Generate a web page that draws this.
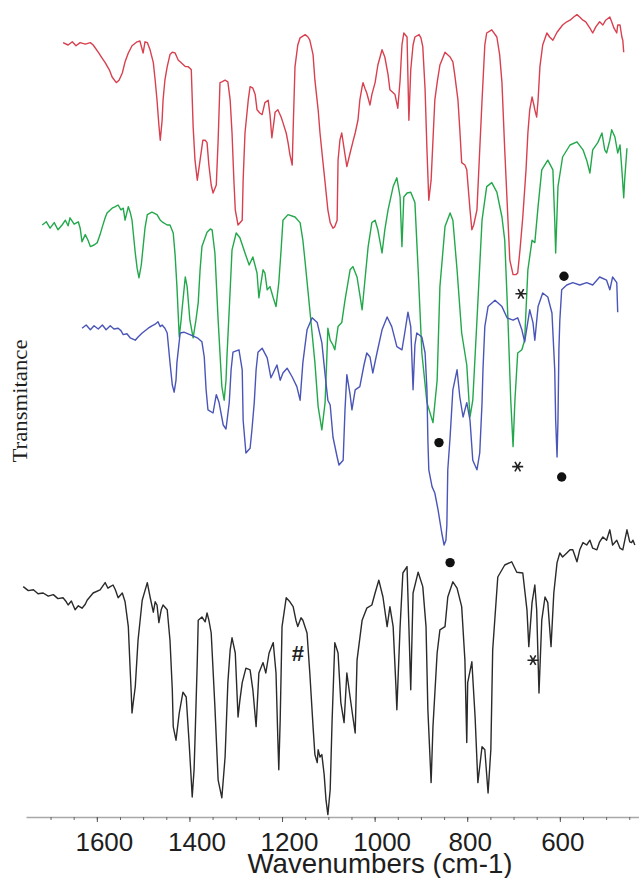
<!DOCTYPE html>
<html>
<head>
<meta charset="utf-8">
<script src="https://cdn.jsdelivr.net/npm/d3@7"></script>
<style>
    html, body { margin: 0; padding: 0; background: #fff; }
    svg { display: block; }
</style>
</head>
<body>
<div id="chart"></div>
<script>
// wavenumbers (cm-1) and offset transmittance (a.u.)
const redWn = [1673,1662,1653,1645,1636,1625,1614,1608,1597,1589,1582,1573,1567,1558,1552,1545,1539,1532,1524,1513,
    1507,1500,1496,1491,1485,1478,1474,1470,1466,1463,1459,1457,1453,1448,1442,1437,1431,1424,1420,1409,
    1403,1399,1396,1392,1388,1383,1377,1371,1366,1362,1358,1353,1349,1342,1338,1334,1330,1323,1317,1312,
    1308,1304,1301,1295,1286,1284,1280,1273,1269,1263,1258,1254,1248,1243,1237,1230,1226,1222,1217,1215,
    1209,1202,1198,1191,1187,1183,1178,1176,1172,1166,1161,1150,1144,1140,1133,1129,1122,1118,1112,1107,
    1101,1096,1090,1086,1081,1079,1075,1071,1064,1060,1053,1047,1042,1036,1032,1027,1025,1021,1017,1010,
    1006,999,993,984,978,971,967,956,950,945,941,937,930,926,922,917,913,904,900,896,
    891,887,883,878,874,870,865,859,848,837,831,827,820,816,812,805,801,794,790,786,
    779,773,768,762,758,747,736,730,725,719,712,708,701,695,691,686,680,673,669,665,
    660,656,654,650,647,643,637,628,622,615,606,594,585,578,570,563,557,550,544,535,
    529,522,514,507,501,492,488,483,477,475,470,466,464,462]
const redT = [96.8,96.5,96.9,96.4,96.8,96.6,96.8,96.5,95.6,94.9,94.3,93.4,92.5,91.8,92.1,93.0,94.4,95.5,96.4,96.9,
    97.0,95.5,96.9,96.8,95.9,94.3,92.1,89.6,86.5,84.6,87.1,89.6,92.1,93.8,95.3,95.6,95.5,94.6,94.4,93.8,
    93.8,93.6,93.4,86.3,82.1,79.6,82.1,84.6,84.6,84.3,81.5,79.0,78.0,79.0,84.6,91.8,91.9,92.1,91.9,89.6,
    85.5,79.6,75.9,74.0,74.6,79.6,85.5,89.6,91.3,91.1,90.3,88.4,88.0,87.8,89.3,89.6,87.8,84.9,87.1,88.1,
    88.4,87.5,86.8,85.5,84.3,82.8,81.5,85.9,93.8,96.5,97.4,97.8,97.5,97.1,95.3,92.1,88.4,85.5,82.1,79.3,
    75.9,74.3,73.6,73.8,74.6,82.1,84.6,85.5,82.8,81.3,83.0,84.4,85.5,87.1,89.6,91.3,91.8,91.1,90.5,89.0,
    90.3,91.8,94.0,95.9,95.0,92.8,90.9,90.3,88.6,92.1,96.5,98.0,97.5,87.1,93.4,96.5,97.5,97.8,97.4,96.3,
    90.9,83.4,77.1,79.6,84.6,89.6,91.8,94.0,95.6,95.0,94.4,92.8,89.6,85.9,81.8,81.5,80.9,75.9,73.4,74.0,
    75.9,83.4,89.6,96.5,98.0,98.4,97.5,95.3,91.8,83.4,74.6,69.6,67.8,67.8,68.0,70.9,75.0,80.9,85.5,88.4,
    90.0,89.0,88.4,87.5,89.6,93.8,96.5,98.0,97.5,97.1,98.1,99.0,99.4,99.6,100.0,100.3,100.0,99.6,99.4,98.6,
    98.0,98.8,99.4,99.0,99.6,100.0,99.4,98.6,98.0,99.0,99.0,97.5,97.1,95.6]

const greenWn = [1718,1709,1701,1692,1684,1675,1668,1662,1658,1649,1640,1636,1632,1625,1619,1614,1606,1599,1593,1588,
    1582,1578,1567,1560,1554,1548,1543,1539,1532,1528,1524,1517,1513,1509,1504,1500,1496,1491,1481,1470,
    1463,1459,1448,1442,1435,1431,1427,1422,1418,1416,1409,1405,1399,1392,1386,1381,1377,1373,1362,1355,
    1351,1345,1338,1330,1325,1321,1319,1312,1308,1299,1291,1280,1271,1263,1254,1250,1245,1241,1237,1232,
    1226,1219,1213,1207,1202,1198,1187,1172,1161,1155,1150,1140,1129,1122,1114,1107,1103,1101,1096,1090,
    1086,1079,1071,1064,1053,1047,1038,1032,1027,1021,1014,1006,999,993,984,978,971,960,952,945,
    941,937,930,922,913,906,898,887,874,865,859,848,837,831,822,812,801,794,788,779,
    768,758,747,736,725,719,712,706,701,697,691,682,676,669,660,654,647,639,626,615,
    611,609,604,594,578,563,550,542,535,529,518,509,503,499,492,488,481,475,470,466,
    462,460,455]
const greenT = [74.0,74.4,73.6,74.3,73.4,74.0,74.6,73.9,74.9,74.1,74.4,73.6,71.9,72.8,72.1,71.3,71.5,71.8,72.8,73.8,
    74.9,75.5,76.1,76.3,76.5,75.9,76.1,74.6,76.3,75.6,74.6,70.5,68.6,67.4,69.0,71.3,73.6,75.3,75.6,75.3,
    74.6,74.4,74.0,74.0,73.0,70.3,66.3,60.0,62.1,63.4,67.5,66.3,62.1,59.9,62.1,64.3,68.4,71.3,73.1,73.5,
    73.4,70.5,62.1,53.8,52.1,54.6,57.5,65.9,70.9,73.0,72.4,70.5,69.0,70.0,68.0,64.9,66.9,68.4,68.0,65.9,
    66.3,64.9,63.8,66.8,70.9,74.6,75.3,75.0,74.3,72.1,69.3,63.4,56.8,51.3,48.4,51.8,57.8,61.1,59.6,59.0,
    58.4,61.3,61.8,64.6,68.4,68.8,67.5,65.3,63.4,67.1,71.3,74.3,74.6,73.4,70.5,73.4,75.9,78.8,79.9,77.5,
    71.3,77.5,78.0,78.1,76.8,68.4,58.0,51.8,49.3,54.6,66.3,73.8,75.5,74.6,68.4,60.5,56.5,50.0,52.1,62.1,
    74.6,78.8,79.3,78.1,75.0,72.1,62.1,52.1,46.3,52.1,58.0,58.4,59.6,68.4,72.1,71.8,76.3,80.9,82.1,80.9,
    74.6,70.5,78.8,82.5,84.0,84.4,83.4,82.1,80.5,83.4,84.3,85.5,83.4,83.0,84.6,85.9,85.0,83.0,84.0,80.9,
    77.4,79.6,83.6]

const blueWn = [1632,1623,1614,1606,1597,1588,1580,1571,1563,1554,1548,1543,1535,1528,1517,1511,1502,1489,1481,1474,
    1468,1463,1459,1453,1448,1442,1437,1433,1429,1427,1420,1412,1399,1383,1373,1368,1364,1360,1349,1342,
    1336,1327,1321,1314,1310,1306,1293,1286,1284,1278,1269,1265,1260,1256,1252,1243,1232,1224,1219,1211,
    1204,1198,1189,1178,1168,1161,1155,1146,1135,1124,1114,1107,1101,1096,1090,1081,1077,1068,1064,1060,
    1053,1049,1042,1032,1023,1017,1010,1004,995,984,973,963,952,941,935,928,922,917,913,909,
    898,891,887,885,883,876,870,863,855,850,846,844,842,837,831,822,816,809,801,794,
    788,779,773,768,766,762,755,740,725,714,701,691,682,676,665,658,654,647,637,626,
    617,611,609,606,604,602,600,596,585,572,557,542,529,514,499,492,486,477,475]
const blueT = [61.1,61.5,60.9,61.4,61.0,61.5,60.9,61.4,61.0,61.1,60.8,60.3,60.4,59.9,59.6,60.0,60.5,61.1,61.4,61.6,
    61.9,61.3,61.5,61.1,60.5,56.8,54.0,53.1,54.6,56.8,60.5,60.6,60.3,59.9,59.4,57.5,53.4,50.9,50.5,52.8,
    51.8,49.0,48.5,51.8,55.9,58.1,58.4,55.9,49.6,45.5,46.1,48.4,51.8,55.9,58.1,58.6,57.4,54.9,55.5,56.5,
    54.6,55.5,56.1,55.0,53.8,52.1,56.8,60.9,62.4,61.8,59.3,55.3,52.1,51.5,47.5,45.0,44.0,44.6,50.9,55.3,
    52.8,50.9,53.4,53.8,56.5,58.0,57.5,55.5,58.0,60.9,62.5,61.3,58.8,58.4,60.5,63.1,61.3,53.4,59.0,60.5,
    60.0,58.0,53.4,47.1,43.4,41.3,40.5,38.4,35.5,34.0,34.6,36.5,43.4,47.5,53.4,55.9,52.5,50.0,51.8,49.6,
    44.6,43.4,45.5,51.8,55.9,61.3,63.8,64.6,63.8,62.4,62.1,62.4,60.9,59.4,63.4,61.8,59.6,63.8,65.5,65.0,
    63.0,55.9,49.6,45.0,49.6,58.4,62.1,65.9,66.5,66.8,66.5,66.8,66.5,67.5,67.1,65.9,67.5,66.8,63.1]

const blackWn = [1759,1748,1737,1727,1716,1705,1694,1684,1673,1666,1662,1655,1647,1640,1632,1625,1621,1608,1593,1582,
    1576,1571,1565,1560,1554,1545,1539,1532,1528,1526,1524,1522,1517,1511,1502,1491,1485,1478,1474,1470,
    1466,1461,1457,1448,1442,1437,1435,1429,1422,1414,1407,1401,1396,1394,1390,1388,1383,1381,1373,1366,
    1362,1358,1353,1349,1345,1338,1330,1323,1317,1312,1308,1301,1295,1291,1286,1278,1269,1263,1256,1250,
    1241,1235,1228,1219,1213,1209,1207,1204,1200,1191,1183,1176,1170,1166,1159,1155,1146,1140,1133,1129,
    1124,1122,1118,1114,1109,1105,1101,1096,1092,1086,1079,1073,1066,1060,1053,1047,1042,1038,1027,1017,
    1006,999,991,982,973,967,960,954,952,945,939,930,926,922,917,906,896,889,885,878,
    874,865,859,848,842,831,822,812,805,801,799,790,783,777,768,762,755,749,745,734,
    719,704,693,680,671,667,660,654,650,645,639,632,626,619,613,606,600,594,585,578,
    572,563,557,550,542,535,529,520,514,507,499,492,486,477,470,464,455,449,445,442,
    438]
const blackT = [28.8,28.3,28.4,27.9,28.0,27.6,27.8,27.3,27.4,26.9,26.5,27.0,25.9,26.4,26.1,26.6,27.1,28.0,28.4,29.3,
    28.6,28.8,29.0,28.4,27.4,28.0,26.9,23.8,18.4,15.9,13.0,14.0,16.3,22.1,27.1,29.3,27.5,25.6,26.9,26.5,
    24.3,25.9,26.5,25.9,22.1,15.9,11.3,9.6,13.0,15.6,15.0,9.6,4.6,2.5,5.9,9.6,19.6,24.6,25.0,24.4,
    25.5,24.6,23.0,18.4,13.8,4.6,2.4,7.5,16.8,20.9,22.4,20.5,12.5,14.6,16.8,18.6,18.4,15.9,11.3,18.0,
    19.3,18.0,20.5,21.8,18.0,9.6,5.9,12.1,23.8,27.4,26.9,26.3,24.6,23.8,24.9,24.6,23.0,18.0,11.3,7.8,
    6.8,8.4,7.5,7.8,5.3,2.1,0.3,3.4,11.8,21.8,20.5,14.3,11.8,18.0,15.0,12.5,10.5,19.6,24.6,26.1,
    26.5,28.0,29.6,27.5,23.8,26.3,23.8,16.3,13.4,23.8,30.5,31.3,23.8,15.9,28.0,30.6,28.8,23.8,13.4,4.3,
    11.3,20.5,23.4,23.8,27.5,29.4,28.6,26.3,19.6,9.3,16.8,19.4,12.5,4.3,8.8,8.4,3.0,8.4,20.9,30.0,
    31.5,31.9,30.6,30.5,25.9,21.3,26.8,29.0,25.9,15.5,24.6,27.5,26.8,21.3,28.0,31.8,33.0,32.5,33.0,33.4,
    33.4,31.9,33.4,34.3,34.0,34.6,33.6,33.4,34.4,35.0,34.6,35.9,34.0,34.6,33.6,33.4,35.9,34.4,34.3,34.6,
    34.0]

// band annotations
const markerKinds = ['asterisk', 'dot', 'dot', 'asterisk', 'dot', 'dot', 'hash', 'asterisk']
const markerWn = [684, 591, 861, 691, 596, 837, 1166, 658]
const markerT = [65.4, 67.6, 46.8, 43.8, 42.5, 31.8, 20.5, 19.6]

const tickLabels = [1600, 1400, 1200, 1000, 800, 600]
const xTitle = 'Wavenumbers (cm-1)'
const yTitle = 'Transmitance'

const config = {
    width: 639,
    height: 878,
    plot: { left: 26, right: 639, top: 17, bottom: 817 },
    sans: '"Liberation Sans", Arial, sans-serif',
    serif: '"Liberation Serif", "Times New Roman", serif',
}

const series = [
    { wn: redWn, t: redT, color: '#d8404f' },
    { wn: greenWn, t: greenT, color: '#22a84b' },
    { wn: blueWn, t: blueT, color: '#4a55b8' },
    { wn: blackWn, t: blackT, color: '#2a2a2a' },
]

const svg = d3
    .select('#chart')
    .append('svg')
    .attr('width', config.width)
    .attr('height', config.height)
    .attr('viewBox', `0 0 ${config.width} ${config.height}`)

const scaleX = d3
    .scaleLinear()
    .domain([1753, 429])
    .range([config.plot.left, config.plot.right])

const scaleY = d3
    .scaleLinear()
    .domain([0, 100])
    .range([config.plot.bottom, config.plot.top])

// x axis: minor ticks every 50, labelled ticks every 200
const minorAxis = d3
    .axisBottom(scaleX)
    .tickValues(d3.range(1700, 449, -50))
    .tickSize(3)
    .tickSizeOuter(0)
    .tickFormat('')

const majorAxis = d3
    .axisBottom(scaleX)
    .tickValues(tickLabels)
    .tickSize(5)
    .tickSizeOuter(0)
    .tickPadding(11)
    .tickFormat(d3.format('d'))

const minorGroup = svg
    .append('g')
    .attr('transform', `translate(0, ${config.plot.bottom})`)
    .call(minorAxis)

minorGroup.select('.domain')
    .attr('stroke', '#a8a8a8')
    .attr('stroke-width', 1.6)
minorGroup.selectAll('.tick line').attr('stroke', '#666')

const majorGroup = svg
    .append('g')
    .attr('transform', `translate(0, ${config.plot.bottom})`)
    .call(majorAxis)

majorGroup.select('.domain').remove()
majorGroup.selectAll('.tick line').attr('stroke', '#555')
majorGroup.selectAll('.tick text')
    .attr('font-family', config.sans)
    .attr('font-size', 26)
    .attr('fill', '#1e1e1e')
    .attr('dx', d => String(d).length > 3 ? 7 : 2.5)

svg.append('text')
    .attr('x', 380)
    .attr('y', 873)
    .attr('text-anchor', 'middle')
    .attr('font-family', config.sans)
    .attr('font-size', 28)
    .attr('fill', '#1e1e1e')
    .attr('textLength', 265)
    .attr('lengthAdjust', 'spacingAndGlyphs')
    .text(xTitle)

svg.append('text')
    .attr('transform', 'translate(27, 401) rotate(-90)')
    .attr('text-anchor', 'middle')
    .attr('font-family', config.serif)
    .attr('font-size', 21)
    .attr('fill', '#1e1e1e')
    .attr('textLength', 123)
    .attr('lengthAdjust', 'spacingAndGlyphs')
    .text(yTitle)

// spectra
const line = d3
    .line()
    .x(d => scaleX(d.wn))
    .y(d => scaleY(d.t))

series.forEach(s => {
    const points = s.wn.map((wn, i) => ({ wn: wn, t: s.t[i] }))
    svg.append('path')
        .datum(points)
        .attr('fill', 'none')
        .attr('stroke', s.color)
        .attr('stroke-width', 1.4)
        .attr('stroke-linejoin', 'round')
        .attr('d', line)
})

// annotation marks
const markers = markerKinds.map((kind, i) => ({ kind: kind, wn: markerWn[i], t: markerT[i] }))

function asteriskPath(r) {
    const p = d3.path()
    for (let a = 0; a < 180; a += 60) {
        const rad = a * Math.PI / 180
        p.moveTo(-r * Math.cos(rad), -r * Math.sin(rad))
        p.lineTo(r * Math.cos(rad), r * Math.sin(rad))
    }
    return p.toString()
}

const markGroups = svg
    .selectAll('g.marker')
    .data(markers)
    .enter()
    .append('g')
    .attr('class', 'marker')
    .attr('transform', d => `translate(${scaleX(d.wn)}, ${scaleY(d.t)})`)

markGroups.filter(d => d.kind === 'dot')
    .append('circle')
    .attr('r', 4.7)
    .attr('fill', '#111')

markGroups.filter(d => d.kind === 'asterisk')
    .append('path')
    .attr('d', asteriskPath(5.5))
    .attr('stroke', '#222')
    .attr('stroke-width', 1.6)
    .attr('fill', 'none')

markGroups.filter(d => d.kind === 'hash')
    .append('text')
    .attr('text-anchor', 'middle')
    .attr('dy', '0.36em')
    .attr('font-family', config.sans)
    .attr('font-weight', 'bold')
    .attr('font-size', 22)
    .attr('fill', '#222')
    .text('#')
</script>
</body>
</html>
